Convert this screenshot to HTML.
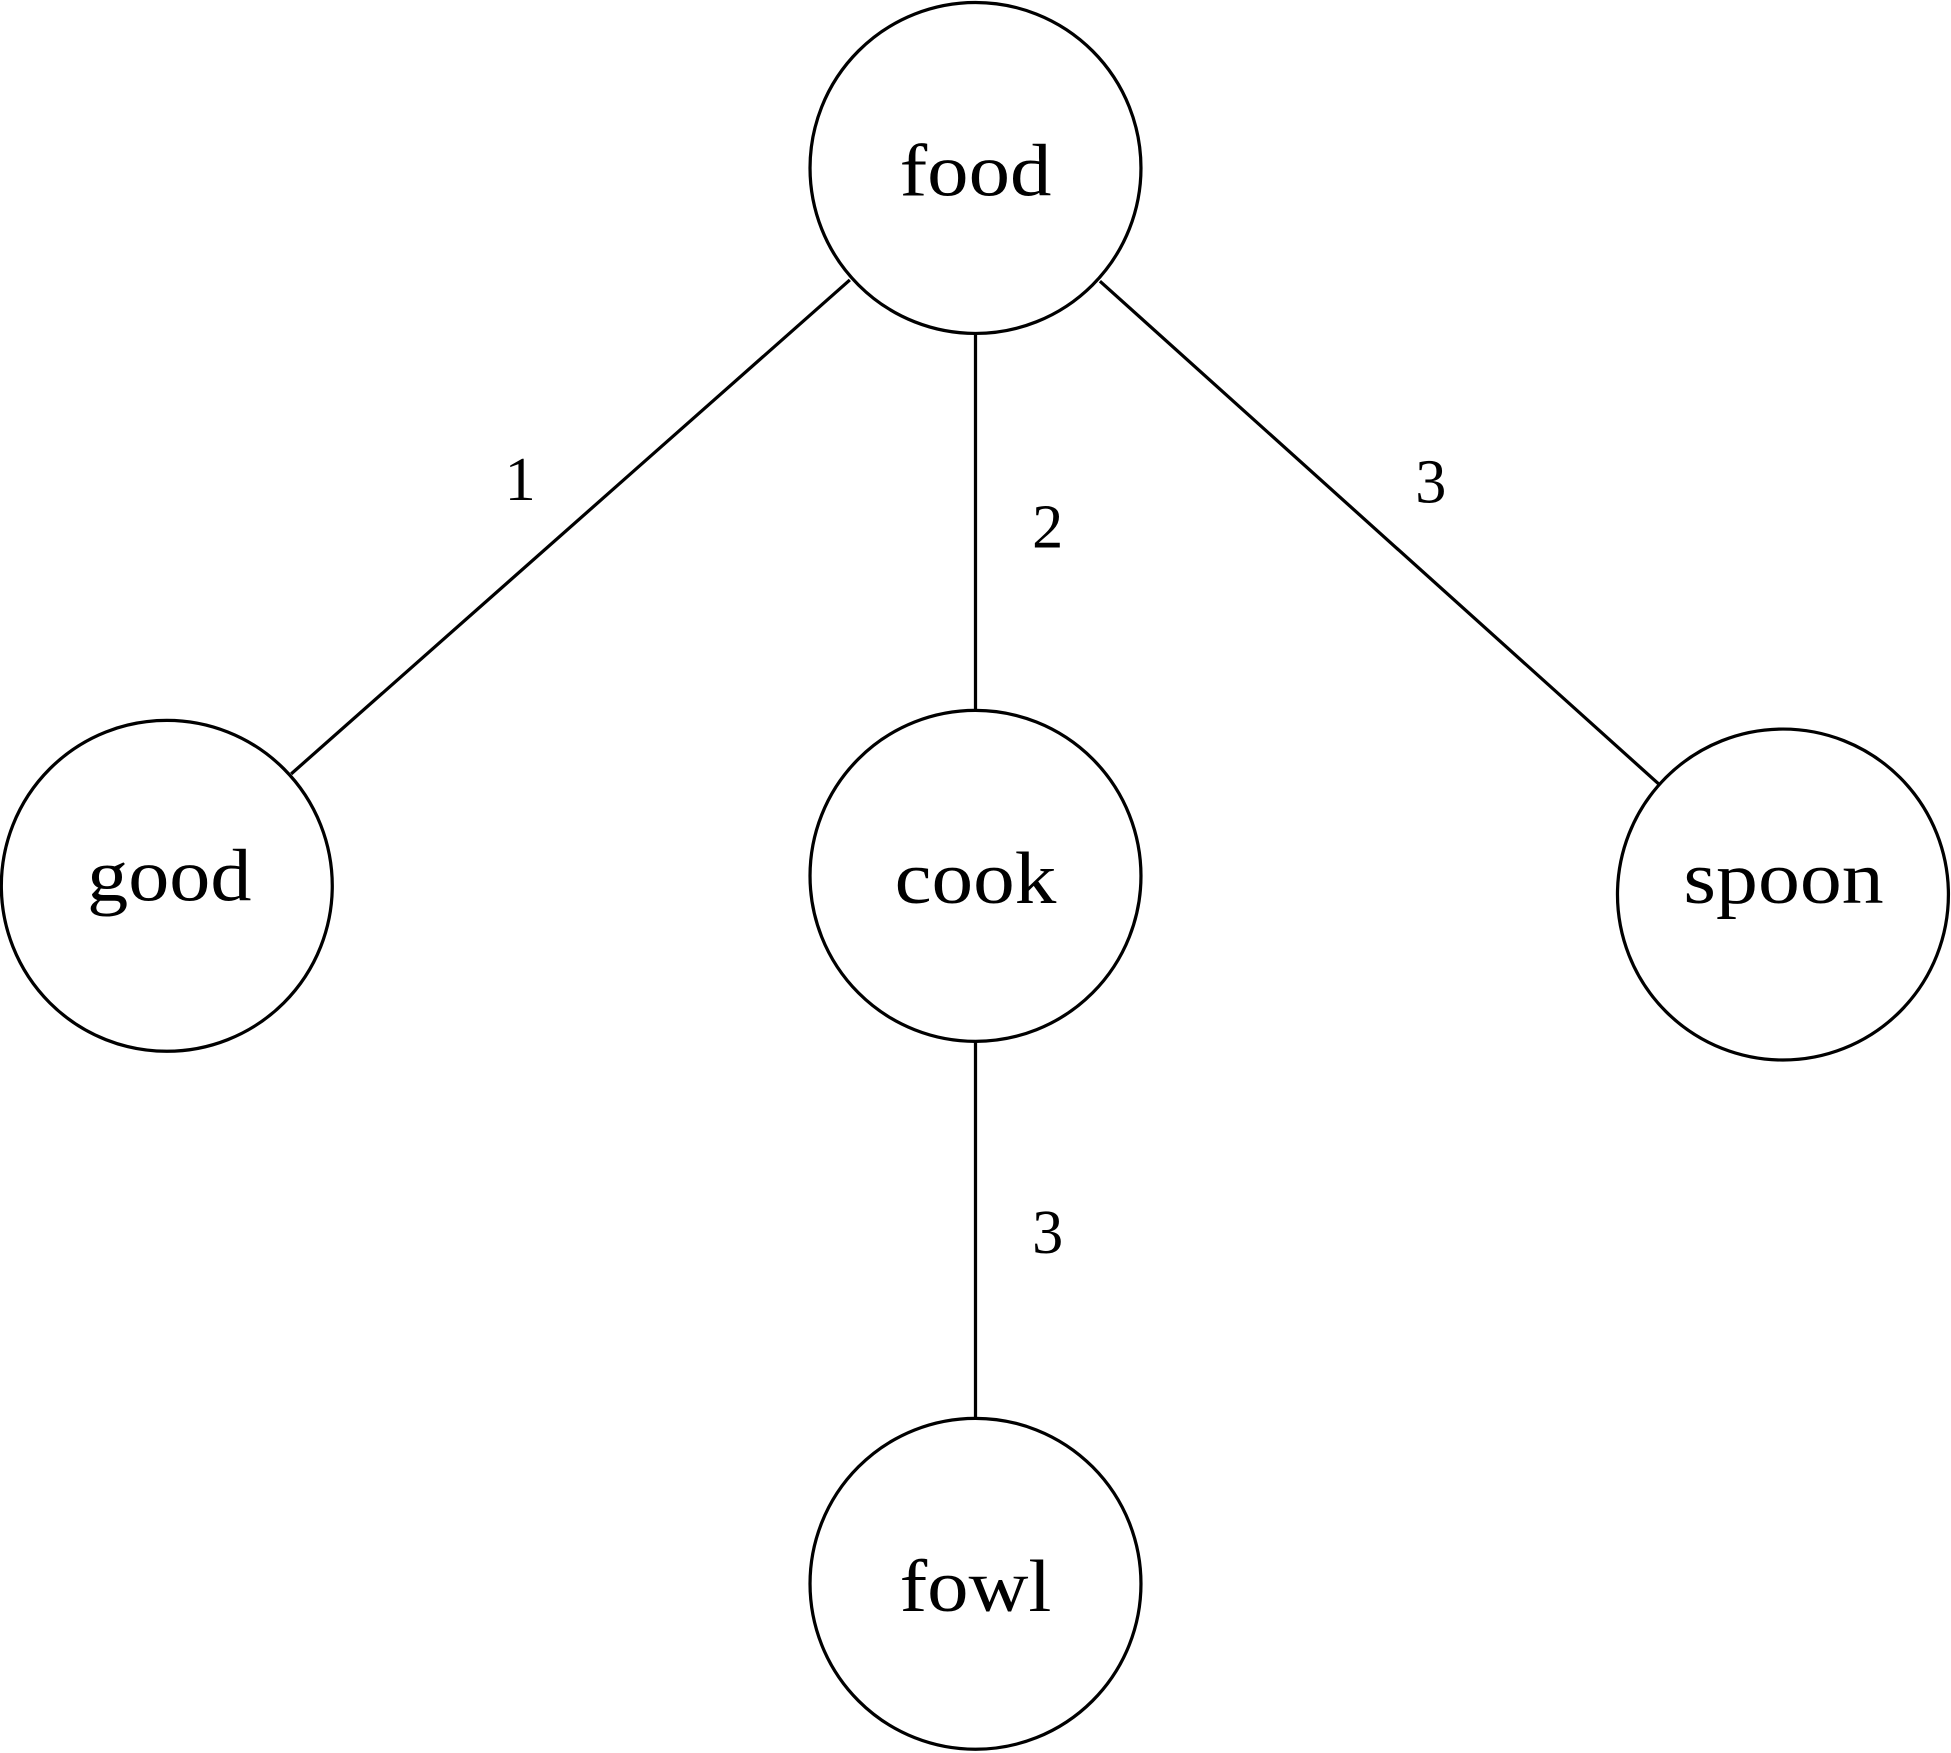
<!DOCTYPE html>
<html><head><meta charset="utf-8"><style>html,body{margin:0;padding:0;background:#fff}svg{display:block}</style></head>
<body>
<svg width="1951" height="1753" viewBox="0 0 1568 1409" xmlns="http://www.w3.org/2000/svg">
<g fill="none" stroke="#000" stroke-width="2.6">
<circle cx="784" cy="135" r="133"/>
<circle cx="134" cy="712" r="133"/>
<circle cx="784" cy="704" r="133"/>
<circle cx="1433" cy="719" r="133"/>
<circle cx="784" cy="1273" r="133"/>
<line x1="683" y1="225" x2="234" y2="622"/>
<line x1="784" y1="268" x2="784" y2="571"/>
<line x1="884" y1="226" x2="1333" y2="630"/>
<line x1="784" y1="838" x2="784" y2="1139"/>
</g>
<g font-family="Liberation Serif, serif" font-size="60" fill="#000" lengthAdjust="spacingAndGlyphs">
<text x="723" y="157" textLength="122" lengthAdjust="spacingAndGlyphs">food</text>
<text x="70" y="724" textLength="132" lengthAdjust="spacingAndGlyphs">good</text>
<text x="719" y="726" textLength="130" lengthAdjust="spacingAndGlyphs">cook</text>
<text x="1353" y="726" textLength="161" lengthAdjust="spacingAndGlyphs">spoon</text>
<text x="723" y="1295" textLength="122" lengthAdjust="spacingAndGlyphs">fowl</text>
</g>
<g font-family="Liberation Serif, serif" font-size="50" text-anchor="middle" fill="#000">
<text x="418" y="402">1</text>
<text x="842" y="440">2</text>
<text x="1150" y="404">3</text>
<text x="842" y="1007">3</text>
</g>
</svg>
</body></html>
